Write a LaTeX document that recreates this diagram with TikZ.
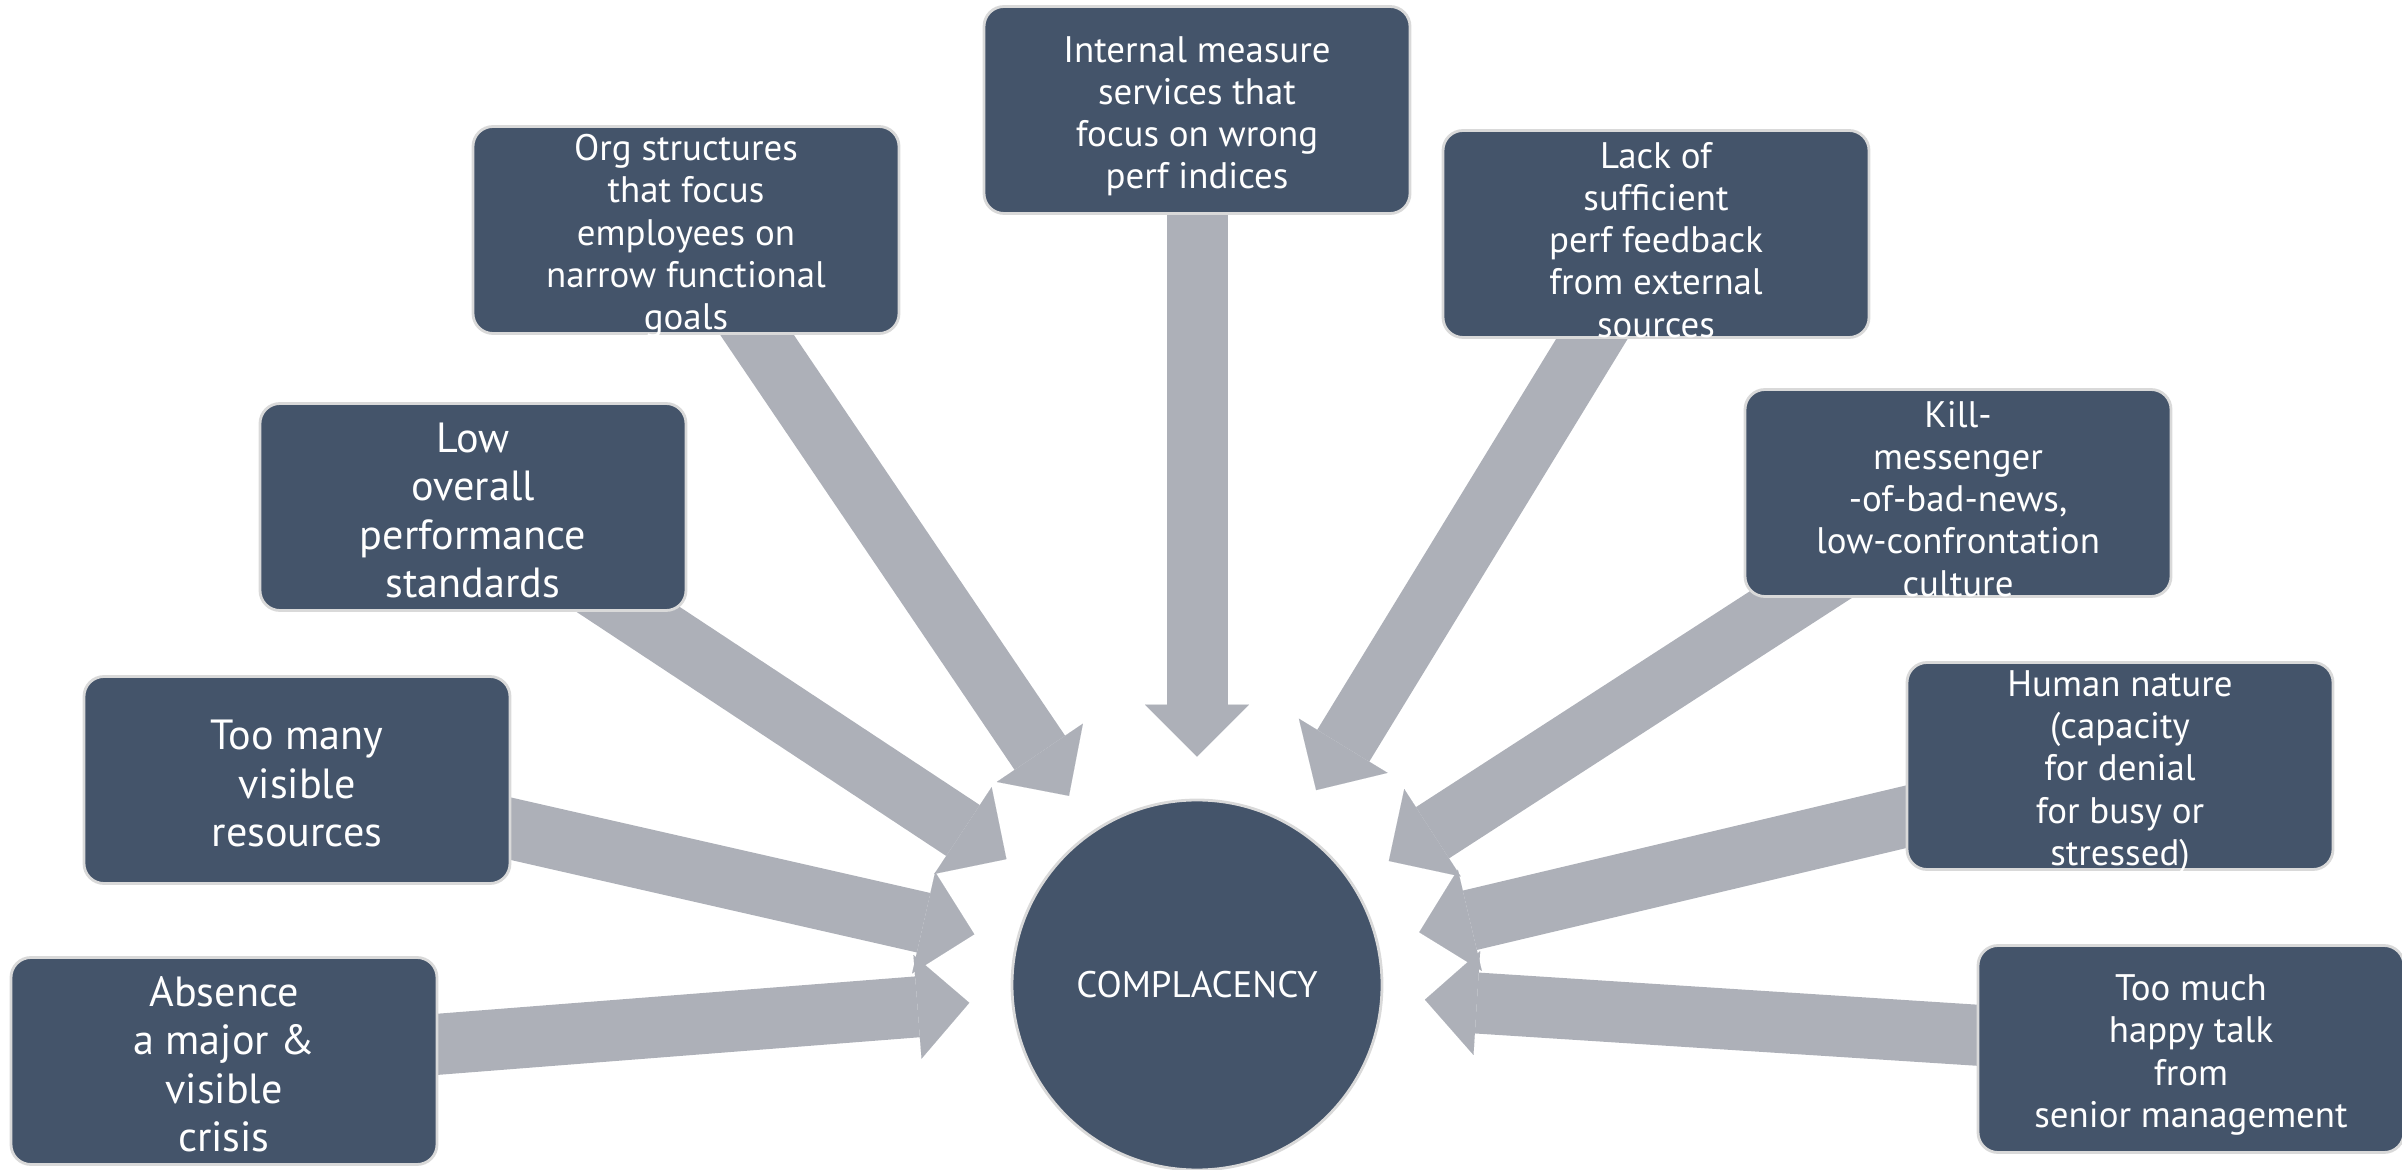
\documentclass[tikz,border=0pt]{standalone}
\usepackage{fontspec}
\setmainfont{PT Sans}
\usepackage{xcolor}
\usetikzlibrary{shapes,arrows.meta,positioning,backgrounds}
\definecolor{slate}{RGB}{68,84,106}
\definecolor{arrowgray}{RGB}{173,176,184}
\definecolor{rimgray}{RGB}{217,217,217}
% invisible strut that drops the text block a little
\newcommand{\lift}[1]{\rule{0pt}{#1}}

\begin{document}
\begin{tikzpicture}[
    cause/.style={rectangle, draw=rimgray, fill=slate, line width=0.8pt, rounded corners=0.2cm, align=center, text=white, minimum height=2.07cm, minimum width=4.26cm, inner ysep=-0.15cm, font=\fontsize{10.5}{12}\selectfont},
    causebig/.style={cause, font=\fontsize{12}{13.8}\selectfont},
    core/.style={circle, draw=rimgray, fill=slate, line width=0.8pt, minimum size=3.7cm, inner sep=0pt, text=white, font=\fontsize{10.5}{12}\selectfont},
    push/.style={draw=arrowgray, line width=0.61cm, shorten >=0.42cm, -{Triangle[width=1.04cm,length=0.52cm,line width=0.01pt]}}
]
    \useasboundingbox (0,0) rectangle (24.02,11.69);

    \node [core] (circ) at (11.97,1.84) {COMPLACENCY};

    \node [causebig] (absence) at (2.24,1.08) {\lift{10.4pt}Absence\\a major \&\\visible\\crisis};
    \node [causebig] (resources) at (2.97,3.89) {\lift{10.4pt}Too many\\visible\\resources};
    \node [causebig] (standards) at (4.73,6.62) {\lift{10.4pt}Low\\overall\\performance\\standards};
    \node [cause] (orgs) at (6.86,9.39) {\lift{10.8pt}Org structures\\that focus\\employees on\\narrow functional\\goals};
    \node [cause] (measure) at (11.97,10.59) {\lift{10.8pt}Internal measure\\services that\\focus on wrong\\perf indices};
    \node [cause] (feedback) at (16.56,9.35) {\lift{10.8pt}Lack of\\sufficient\\perf feedback\\from external\\sources};
    \node [cause] (messenger) at (19.58,6.76) {\lift{10.8pt}Kill-\\messenger\\-of-bad-news,\\low-confrontation\\culture};
    \node [cause] (nature) at (21.20,4.03) {\lift{10.8pt}Human nature\\(capacity\\for denial\\for busy or\\stressed)};
    \node [cause] (happytalk) at (21.91,1.20) {\lift{10.8pt}Too much\\happy talk\\from\\senior management};

    % block arrows sit behind the boxes
    \begin{scope}[on background layer]
        \foreach \src in {absence,resources,standards,orgs,measure,feedback,messenger,nature,happytalk}
            \draw [push] (\src.center) -- (circ);
    \end{scope}
\end{tikzpicture}
\end{document}
